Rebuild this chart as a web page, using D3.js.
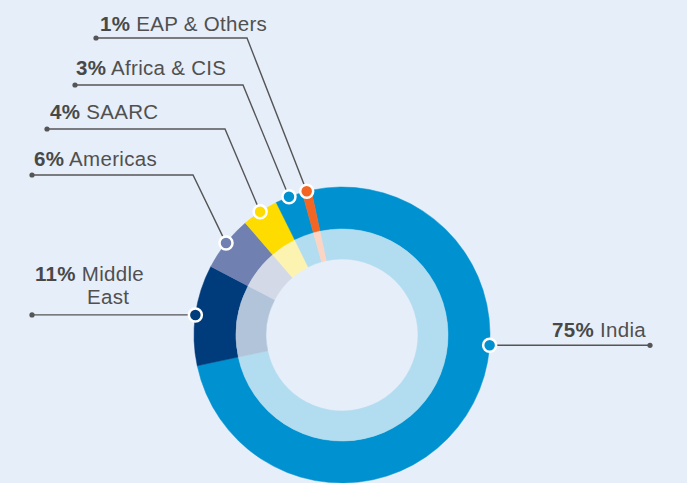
<!DOCTYPE html>
<html><head><meta charset="utf-8">
<script src="https://cdn.jsdelivr.net/npm/d3@7"></script>
<style>
html,body{margin:0;padding:0;background:#e6eef9;}
svg{display:block;}
text{font-family:"Liberation Sans",Arial,sans-serif;font-size:20.5px;fill:#505050;letter-spacing:0.3px;}
</style></head>
<body>
<script>
// ---- data ----
const categories = ["India", "Middle East", "Americas", "SAARC", "Africa & CIS", "EAP & Others"];
const shares = [75, 11, 6, 4, 3, 1];
const labelLines = [["India"], ["Middle", "East"], ["Americas"], ["SAARC"], ["Africa & CIS"], ["EAP & Others"]];
const outerColors = ["#0092d0", "#003b7b", "#7080b0", "#ffdc00", "#0092d0", "#f26522"];
const innerColors = ["#b2dcef", "#b1c4d9", "#d3d9e7", "#fdf3b1", "#b2dcef", "#fbd4c4"];

// ---- layout ----
const W = 687, H = 483;
const cx = 342, cy = 335;
const rOuter = 148, rMid = 106, rInner = 76;
const startDeg = -12;
const rad = d => d * Math.PI / 180;

// label layout: dot end x, text position, optional elbow
const labelLayout = [
  {dotX: 650, textX: 646, textY: 337, anchor: "end", markerDeg: 94},
  {dotX: 32, textX: 35, textY: 281, anchor: "start", line2X: 87, line2Y: 304},
  {dotX: 32, textX: 34, textY: 166, anchor: "start", elbowX: 193, elbowY: 175},
  {dotX: 47, textX: 50, textY: 119, anchor: "start", elbowX: 225, elbowY: 129},
  {dotX: 75, textX: 76, textY: 75, anchor: "start", elbowX: 243, elbowY: 85},
  {dotX: 96, textX: 100, textY: 31, anchor: "start", elbowX: 247, elbowY: 38}
];

const svg = d3.select("body").append("svg").attr("width", W).attr("height", H);

const pie = d3.pie().sort(null).value(d => d)
  .startAngle(rad(startDeg)).endAngle(rad(startDeg) + 2 * Math.PI);
const arcs = pie(shares);

const g = svg.append("g").attr("transform", `translate(${cx},${cy})`);
const outerArc = d3.arc().innerRadius(rMid).outerRadius(rOuter);
const innerArc = d3.arc().innerRadius(rInner).outerRadius(rMid);

g.selectAll("path.outer").data(arcs).join("path").attr("class", "outer")
  .attr("d", outerArc).attr("fill", (d, i) => outerColors[i])
  .attr("stroke", (d, i) => outerColors[i]).attr("stroke-width", 0.5);
g.selectAll("path.inner").data(arcs).join("path").attr("class", "inner")
  .attr("d", innerArc).attr("fill", (d, i) => innerColors[i])
  .attr("stroke", (d, i) => innerColors[i]).attr("stroke-width", 0.5);

// leader lines, markers, labels
arcs.forEach((a, i) => {
  const L = labelLayout[i];
  const ang = L.markerDeg !== undefined ? rad(L.markerDeg) : (a.startAngle + a.endAngle) / 2;
  const mx = cx + rOuter * Math.sin(ang);
  const my = cy - rOuter * Math.cos(ang);
  let pts;
  if (L.elbowX !== undefined) {
    pts = [[L.dotX, L.elbowY], [L.elbowX, L.elbowY], [mx, my]];
  } else {
    pts = [[L.dotX, my], [mx, my]];
  }
  svg.append("path").attr("d", d3.line()(pts))
    .attr("fill", "none").attr("stroke", "#555").attr("stroke-width", 1.4);
  svg.append("circle").attr("cx", pts[0][0]).attr("cy", pts[0][1]).attr("r", 2.6).attr("fill", "#555");
  svg.append("circle").attr("cx", mx).attr("cy", my).attr("r", 6.5)
    .attr("fill", outerColors[i]).attr("stroke", "#fff").attr("stroke-width", 2.5);

  const t = svg.append("text").attr("x", L.textX).attr("y", L.textY).attr("text-anchor", L.anchor);
  t.append("tspan").attr("font-weight", "bold").attr("fill", "#484848").text(shares[i] + "%");
  t.append("tspan").text(" " + labelLines[i][0]);
  if (labelLines[i].length > 1) {
    svg.append("text").attr("x", L.line2X).attr("y", L.line2Y).text(labelLines[i][1]);
  }
});
</script>
</body></html>
